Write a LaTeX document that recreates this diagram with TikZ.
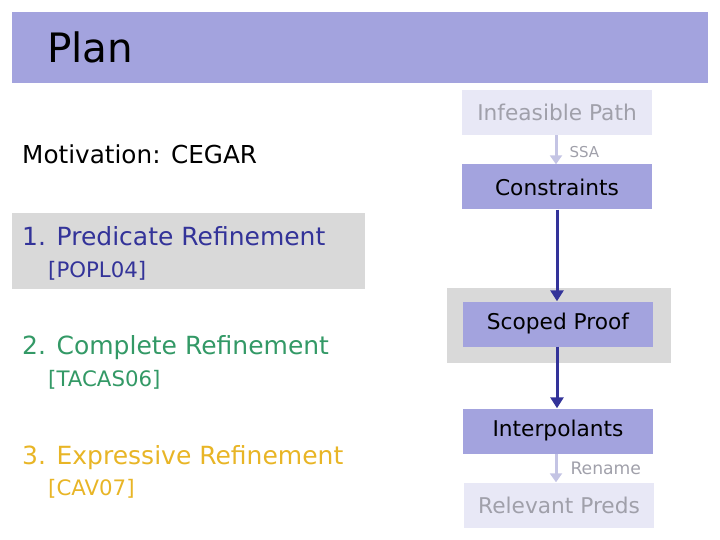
\documentclass[tikz,border=0pt]{standalone}
\usepackage{fontspec}
\setmainfont{DejaVu Sans}
\usetikzlibrary{arrows.meta}
\definecolor{hdrblue}{HTML}{A3A3DE}
\definecolor{lightbox}{HTML}{E8E8F6}
\definecolor{fadetext}{HTML}{A0A0AA}
\definecolor{graybg}{HTML}{D9D9D9}
\definecolor{darkblue}{HTML}{333399}
\definecolor{itemgreen}{HTML}{339966}
\definecolor{itemyellow}{HTML}{E8B526}
\definecolor{lightarrow}{HTML}{C4C4E4}
\begin{document}
\begin{tikzpicture}[x=1pt,y=-1pt,
  stepbox/.style={rectangle, inner sep=0pt, minimum width=190pt, minimum height=45pt, fill=hdrblue, text=black, font=\fontsize{21.7}{26}\selectfont},
  fadebox/.style={stepbox, fill=lightbox, text=fadetext},
  darr/.style={draw=darkblue, line width=3pt, -{Triangle[width=13pt,length=11pt]}},
  larr/.style={draw=lightarrow, line width=3pt, -{Triangle[width=12pt,length=9pt]}},
  lbl/.style={text=fadetext, inner sep=0pt, anchor=west},
  item/.style={anchor=base west, inner sep=0pt, font=\fontsize{25}{30}\selectfont},
  ref/.style={anchor=base west, inner sep=0pt, font=\fontsize{21.3}{25}\selectfont}]
\useasboundingbox (0,0) rectangle (720,540);
% header
\fill[hdrblue] (12,12) rectangle (708,83);
\node[anchor=base west, inner sep=0pt, font=\fontsize{40.5}{48}\selectfont] (plan) at (47,63) {Plan};
% left column
\fill[graybg] (12,213) rectangle (365,289);
\node[item, font=\fontsize{24.7}{30}\selectfont] (motiv) at (22,164) {Motivation: CEGAR};
\node[item, text=darkblue] (i1) at (22,245) {1. Predicate Refinement};
\node[ref, text=darkblue] (r1) at (48,277) {[POPL04]};
\node[item, text=itemgreen] (i2) at (22,354) {2. Complete Refinement};
\node[ref, text=itemgreen] (r2) at (48,386) {[TACAS06]};
\node[item, text=itemyellow] (i3) at (22,464) {3. Expressive Refinement};
\node[ref, text=itemyellow] (r3) at (48,495) {[CAV07]};
% right column
\fill[graybg] (447,288) rectangle (671,363);
\node[fadebox] (inf) at (557,112.5) {Infeasible Path};
\node[stepbox] (con) at (557,187) {Constraints};
\node[stepbox] (sco) at (558,324) {Scoped Proof};
\node[stepbox] (int) at (558,431) {Interpolants};
\node[fadebox] (rel) at (559,505) {Relevant Preds};
\draw[larr] (inf.south -| 556,0) -- (con.north -| 556,0) node[midway, lbl, xshift=12pt, yshift=-2pt, font=\fontsize{15}{18}\selectfont] (ssa) {SSA};
\draw[darr] (con.south -| 557,0) -- (sco.north -| 557,0);
\draw[darr] (sco.south -| 557,0) -- (int.north -| 557,0);
\draw[larr] (int.south -| 556,0) -- (rel.north -| 556,0) node[midway, lbl, xshift=13pt, font=\fontsize{17.2}{20}\selectfont] (ren) {Rename};
\end{tikzpicture}
\end{document}
